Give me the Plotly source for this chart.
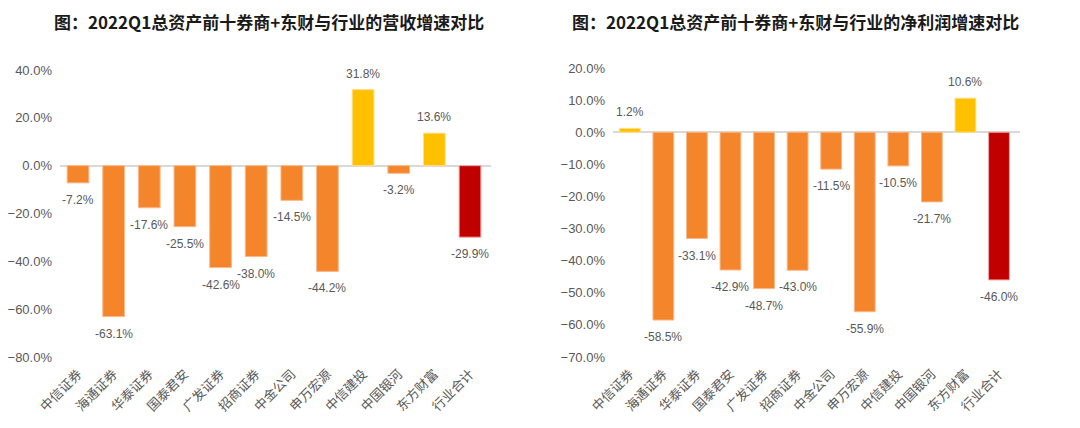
import plotly.graph_objects as go

# categories shared by both panels
brokers = ['中信证券', '海通证券', '华泰证券', '国泰君安', '广发证券', '招商证券',
           '中金公司', '申万宏源', '中信建投', '中国银河', '东方财富', '行业合计']

# 2022Q1 revenue growth (%)
revenue_growth = [-7.2, -63.1, -17.6, -25.5, -42.6, -38.0, -14.5, -44.2, 31.8, -3.2, 13.6, -29.9]
# 2022Q1 net profit growth (%)
profit_growth = [1.2, -58.5, -33.1, -42.9, -48.7, -43.0, -11.5, -55.9, -10.5, -21.7, 10.6, -46.0]

left_title = '图：2022Q1总资产前十券商+东财与行业的营收增速对比'
right_title = '图：2022Q1总资产前十券商+东财与行业的净利润增速对比'

ORANGE = '#F5852A'
YELLOW = '#FFC000'
RED = '#C00000'
GRAY = '#595959'

# page body keeps its 8px margin, so the figure is sized to fit inside it
W, H = 1064, 412


def bar_colors(vals):
    cols = []
    for name, v in zip(brokers, vals):
        if name == '行业合计':
            cols.append(RED)
        elif v > 0:
            cols.append(YELLOW)
        else:
            cols.append(ORANGE)
    return cols


def edge_colors(vals):
    # bars carry a pale outline
    return ['#F4A3A3' if c == RED else ('#FFE08A' if c == YELLOW else '#F9B98A')
            for c in bar_colors(vals)]


fig = go.Figure()
fig.add_trace(go.Bar(x=brokers, y=revenue_growth, xaxis='x', yaxis='y',
                     marker=dict(color=bar_colors(revenue_growth),
                                 line=dict(color=edge_colors(revenue_growth), width=1)),
                     width=0.61, hoverinfo='skip'))
fig.add_trace(go.Bar(x=brokers, y=profit_growth, xaxis='x2', yaxis='y2',
                     marker=dict(color=bar_colors(profit_growth),
                                 line=dict(color=edge_colors(profit_growth), width=1)),
                     width=0.62, hoverinfo='skip'))

# data labels, Excel style (offset from the bar end)
annotations = []
for xref, yref, vals in (('x', 'y', revenue_growth), ('x2', 'y2', profit_growth)):
    for name, v in zip(brokers, vals):
        annotations.append(dict(x=name, y=v, xref=xref, yref=yref, text=f'{v:.1f}%',
                                showarrow=False, yshift=16 if v > 0 else -17,
                                font=dict(size=12, color=GRAY, family='Liberation Sans, Arial')))

title_font = dict(size=17, color='#1a1a1a', family='Noto Sans CJK SC')
annotations.append(dict(x=261 / W, y=1, xref='paper', yref='paper',
                        xanchor='center', yanchor='top', borderpad=0,
                        text=f'<b>{left_title}</b>', showarrow=False, font=title_font))
annotations.append(dict(x=787 / W, y=1, xref='paper', yref='paper',
                        xanchor='center', yanchor='top', borderpad=0,
                        text=f'<b>{right_title}</b>', showarrow=False, font=title_font))

xaxis_style = dict(type='category', showgrid=False, showline=False, ticks='', automargin=False,
                   tickangle=-45, ticklabelstandoff=6,
                   tickfont=dict(size=13, color=GRAY, family='Noto Sans CJK SC'))
yaxis_style = dict(showgrid=False, showline=False, ticks='', zeroline=True, automargin=False,
                   zerolinecolor='#D9D9D9', zerolinewidth=1.5,
                   tickformat='.1f', ticksuffix='%', ticklabelstandoff=7,
                   tickfont=dict(size=13, color=GRAY, family='Liberation Sans, Arial'))

fig.update_layout(
    width=W, height=H,
    margin=dict(l=0, r=0, t=0, b=0),
    paper_bgcolor='white', plot_bgcolor='white',
    showlegend=False, bargap=0.39,
    xaxis=dict(domain=[52 / W, 483 / W], anchor='y', **xaxis_style),
    yaxis=dict(domain=[63 / H, 350 / H], anchor='x', range=[-80, 40], dtick=20, **yaxis_style),
    xaxis2=dict(domain=[605 / W, 1012 / W], anchor='y2', **xaxis_style),
    yaxis2=dict(domain=[63 / H, 352 / H], anchor='x2', range=[-70, 20], dtick=10, **yaxis_style),
    annotations=annotations,
)

fig.write_html('out.html')
